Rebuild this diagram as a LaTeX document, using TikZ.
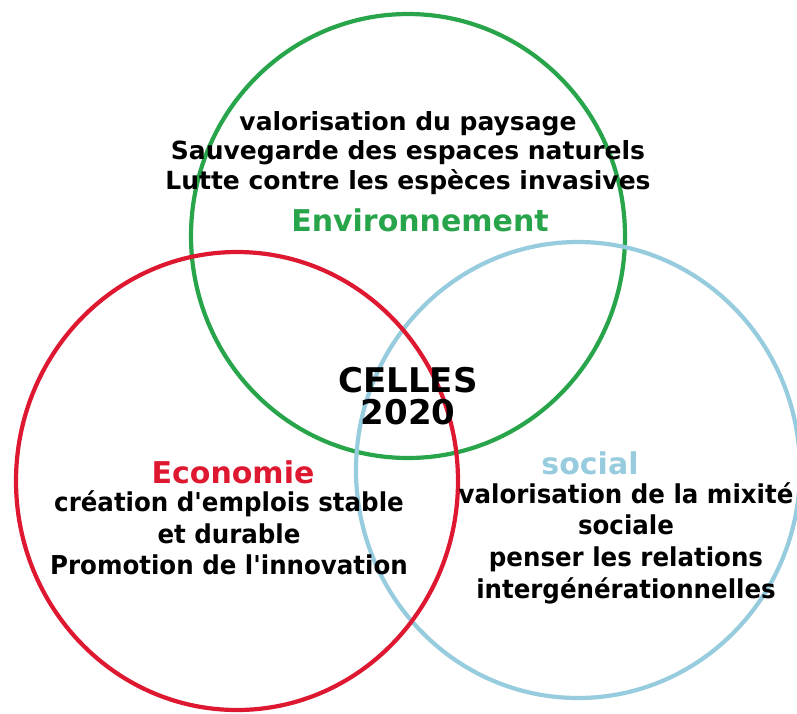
\documentclass[tikz,border=0pt]{standalone}
\usepackage{fontspec}
\setmainfont{DejaVu Sans}
\definecolor{envgreen}{RGB}{40,165,75}
\definecolor{ecored}{RGB}{222,24,48}
\definecolor{socblue}{RGB}{150,204,222}
\tikzset{
  ring/.style={line width=4.2pt},
  bodytext/.style={font=\bfseries\fontsize{25}{29.5}\selectfont, align=center, inner sep=0pt},
  lowtext/.style={font=\bfseries\fontsize{25}{30.5}\selectfont, align=center, inner sep=0pt, xscale=0.98, yscale=1.04, transform shape},
  title/.style={font=\bfseries\fontsize{30}{32}\selectfont, align=center, inner sep=0pt}
}
\begin{document}
\begin{tikzpicture}[x=1pt,y=1pt]
\useasboundingbox (0,0) rectangle (797,-713);
\fill[white] (0,0) rectangle (797,-713);
% circles
\draw[ring, envgreen] (408,-236) ellipse [x radius=217pt, y radius=222pt];
\draw[ring, socblue] (578,-470) ellipse [x radius=222pt, y radius=228pt];
\draw[ring, ecored] (237,-481) ellipse [x radius=221pt, y radius=229pt];
% texts
\node[bodytext] (envlist) at (408,-153) {valorisation du paysage\\Sauvegarde des espaces naturels\\Lutte contre les espèces invasives};
\node[title, text=envgreen] (envtitle) at (420,-220) {Environnement};
\node[title, font=\bfseries\fontsize{34}{32}\selectfont] (center) at (408,-396) {CELLES\\2020};
\node[title, text=ecored] (ecotitle) at (233,-472) {Economie};
\node[lowtext] (ecolist) at (229,-533) {création d\textquotesingle emplois stable\\et durable\\Promotion de l\textquotesingle innovation};
\node[title, text=socblue] (soctitle) at (590,-463) {social};
\node[lowtext] (soclist) at (626,-543) {valorisation de la mixité\\sociale\\penser les relations\\intergénérationnelles};
\end{tikzpicture}
\end{document}
